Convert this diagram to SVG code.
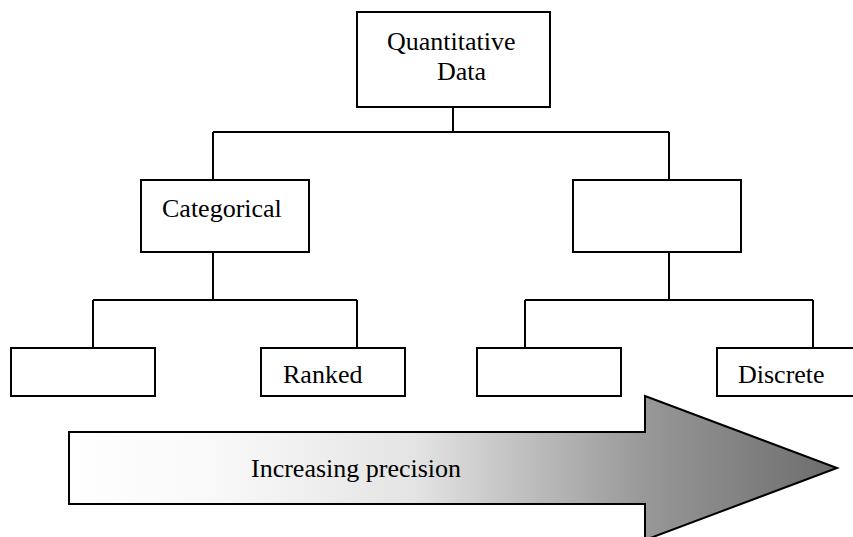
<svg xmlns="http://www.w3.org/2000/svg" width="853" height="537" viewBox="0 0 853 537">
<defs>
<linearGradient id="prec" gradientUnits="userSpaceOnUse" x1="69" y1="0" x2="837" y2="0">
<stop offset="0" stop-color="#ffffff"/>
<stop offset="0.2" stop-color="#f8f8f8"/>
<stop offset="0.45" stop-color="#e4e4e4"/>
<stop offset="0.6" stop-color="#bdbdbd"/>
<stop offset="0.75" stop-color="#989898"/>
<stop offset="1" stop-color="#6c6c6c"/>
</linearGradient>
</defs>
<style>
.box{fill:#ffffff;stroke:#000000;stroke-width:2}
.conn{fill:none;stroke:#000000;stroke-width:2}
.lbl{font-family:"Liberation Serif","Times New Roman",serif;font-size:26px;fill:#000000}
</style>
<rect width="853" height="537" fill="#ffffff"/>
<g id="connectors">
<path class="conn" d="M453,107 V132 M213,132 H669 M213,132 V180 M669,132 V180"/>
<path class="conn" d="M213,252 V300 M93,300 H357 M93,300 V348 M357,300 V348"/>
<path class="conn" d="M669,252 V300 M525,300 H813 M525,300 V348 M813,300 V348"/>
</g>
<g id="node-quantitative">
<rect class="box" x="357" y="12" width="193" height="95"/>
<text class="lbl" x="387" y="50">Quantitative</text>
<text class="lbl" x="437" y="80">Data</text>
</g>
<g id="node-categorical">
<rect class="box" x="141" y="180" width="168" height="72"/>
<text class="lbl" x="162" y="217">Categorical</text>
</g>
<g id="node-right-mid">
<rect class="box" x="573" y="180" width="168" height="72"/>
</g>
<g id="node-leaf1">
<rect class="box" x="11" y="348" width="144" height="48"/>
</g>
<g id="node-ranked">
<rect class="box" x="261" y="348" width="144" height="48"/>
<text class="lbl" x="283" y="383">Ranked</text>
</g>
<g id="node-leaf3">
<rect class="box" x="477" y="348" width="144" height="48"/>
</g>
<g id="node-discrete">
<rect class="box" x="717" y="348" width="144" height="48"/>
<text class="lbl" x="738" y="383">Discrete</text>
</g>
<g id="precision-arrow">
<path d="M69,432 H645 V396 L837,468 L645,540 V504 H69 Z" fill="url(#prec)" stroke="#000000" stroke-width="2"/>
<text class="lbl" x="251" y="477">Increasing precision</text>
</g>
</svg>
